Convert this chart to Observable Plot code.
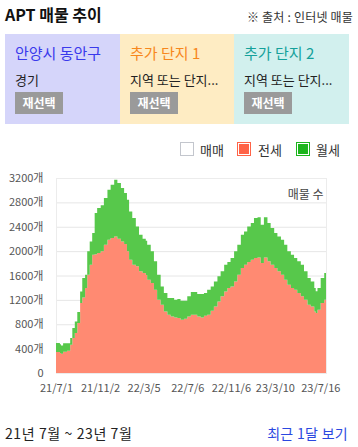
<!DOCTYPE html>
<html><head><meta charset="utf-8">
<script src="https://cdn.jsdelivr.net/npm/d3@7"></script>
<script src="https://cdn.jsdelivr.net/npm/@observablehq/plot@0.6"></script>
<style>
body{margin:0;width:358px;height:447px;background:#fff;position:relative;font-family:"Noto Sans CJK KR","Noto Sans",sans-serif;overflow:hidden;}
.abs{position:absolute;}
#title{left:5px;top:3px;font-size:16px;font-weight:bold;color:#111;line-height:22px;}
#source{right:5px;top:8px;font-size:12px;letter-spacing:0.2px;color:#333;line-height:18px;}
.panel{position:absolute;top:34px;height:90px;}
.ptitle{position:absolute;left:10px;top:9px;font-size:15px;line-height:20px;white-space:nowrap;}
.psub{position:absolute;left:10px;top:37px;font-size:13px;line-height:18px;color:#222;white-space:nowrap;}
.btn{position:absolute;left:10px;top:58px;width:48px;height:22px;background:#9a9a9a;color:#fff;font-weight:bold;font-size:12px;line-height:22px;text-align:center;}
.lbox{position:absolute;top:142px;width:12px;height:12px;border:1.5px solid;box-shadow:inset 0 0 0 1px #fff;}
.ltxt{position:absolute;top:141px;font-size:13px;line-height:18px;color:#333;}
#chart{left:0;top:160px;}
#period{left:5px;top:424px;font-size:14px;letter-spacing:0.6px;color:#222;line-height:18px;}
#recent{right:10px;top:424px;font-size:14px;letter-spacing:0.3px;color:#2b48e0;line-height:18px;}
</style>
</head><body>
<div id="title" class="abs">APT 매물 추이</div>
<div id="source" class="abs">※ 출처 : 인터넷 매물</div>

<div class="panel" style="left:5px;width:115px;background:#d5d5fa;">
  <div class="ptitle" style="color:#3a3aec;">안양시 동안구</div>
  <div class="psub">경기</div>
  <div class="btn">재선택</div>
</div>
<div class="panel" style="left:120px;width:114px;background:#feecc3;">
  <div class="ptitle" style="color:#f7871c;">추가 단지 1</div>
  <div class="psub">지역 또는 단지...</div>
  <div class="btn">재선택</div>
</div>
<div class="panel" style="left:234px;width:115px;background:#d2f0ee;">
  <div class="ptitle" style="color:#14a19b;">추가 단지 2</div>
  <div class="psub">지역 또는 단지...</div>
  <div class="btn">재선택</div>
</div>

<div class="lbox" style="left:180px;border-color:#c3c6cd;background:#fff;box-shadow:none;"></div>
<div class="ltxt" style="left:200px;">매매</div>
<div class="lbox" style="left:237px;border-color:#ff6347;background:#ff6347;"></div>
<div class="ltxt" style="left:258px;">전세</div>
<div class="lbox" style="left:296px;border-color:#1cb51c;background:#1cb51c;"></div>
<div class="ltxt" style="left:316px;">월세</div>

<div id="chart" class="abs"></div>
<div id="period" class="abs">21년 7월 ~ 23년 7월</div>
<div id="recent" class="abs">최근 1달 보기</div>

<script>
const dates = [
"2021-07-01","2021-07-12","2021-07-15","2021-07-21","2021-08-01","2021-08-10","2021-08-16","2021-08-23","2021-08-30",
"2021-09-07","2021-09-13","2021-09-21","2021-09-27","2021-10-04","2021-10-11","2021-10-18","2021-10-25","2021-11-04",
"2021-11-13","2021-11-23","2021-12-02","2021-12-12","2021-12-21","2021-12-31","2022-01-09","2022-01-17","2022-01-23",
"2022-02-01","2022-02-11","2022-02-20","2022-03-02","2022-03-11","2022-03-15","2022-03-25","2022-04-03","2022-04-12",
"2022-04-22","2022-05-01","2022-05-11","2022-05-20","2022-05-30","2022-06-08","2022-06-17","2022-06-27","2022-07-06",
"2022-07-16","2022-07-25","2022-08-03","2022-08-13","2022-08-22","2022-08-31","2022-09-10","2022-09-19","2022-09-29",
"2022-10-08","2022-10-18","2022-10-27","2022-11-05","2022-11-15","2022-11-24","2022-12-04","2022-12-13","2022-12-22",
"2023-01-01","2023-01-10","2023-01-20","2023-01-29","2023-02-07","2023-02-17","2023-02-26","2023-03-08","2023-03-17",
"2023-03-27","2023-04-05","2023-04-14","2023-04-24","2023-05-03","2023-05-12","2023-05-22","2023-05-31","2023-06-10",
"2023-06-19","2023-06-29","2023-07-03","2023-07-08","2023-07-17","2023-07-27","2023-08-01"];
const jeonse = [
345,330,317,350,366,464,574,656,820,
1148,1241,1395,1613,1777,1941,1950,1969,1996,
2105,2187,2215,2242,2204,2160,2116,1996,1859,
1777,1750,1668,1641,1610,1531,1477,1367,1203,
1121,1011,957,929,912,902,875,890,929,
957,957,929,912,940,957,1022,1093,1175,
1258,1339,1395,1421,1503,1613,1723,1777,1821,
1859,1887,1896,1805,1896,1832,1777,1723,1668,
1613,1531,1449,1395,1367,1313,1258,1203,1121,
1093,1011,984,1040,1148,1203,1220];
const wolse = [
147,140,136,140,124,110,164,191,181,
191,318,218,383,383,356,676,739,755,
767,821,875,930,914,876,838,848,793,
767,656,602,563,560,574,519,465,410,
300,302,274,302,291,313,312,297,329,
372,372,367,384,373,410,399,410,411,
410,438,426,466,493,492,547,547,585,
602,657,658,629,658,629,603,574,574,
574,574,547,546,520,519,519,465,438,
410,384,356,355,411,438,448];
const seriesNames = ["전세","월세"];
const seriesColors = ["#ff8a72","#57c84b"];
const xTicks = ["2021-07-01","2021-11-02","2022-03-05","2022-07-06","2022-11-06","2023-03-10","2023-07-16"];
const yTicks = [0,400,800,1200,1600,2000,2400,2800,3200];
const xDomain = ["2021-07-01","2023-08-01"];

const rows = dates.flatMap((d,i)=>[
  {date:new Date(d), type:"전세", value:jeonse[i]},
  {date:new Date(d), type:"월세", value:wolse[i]}
]);
const fmtX = d => `${String(d.getUTCFullYear()).slice(2)}/${d.getUTCMonth()+1}/${d.getUTCDate()}`;
const fmtY = v => v === 0 ? "0" : v + "개";

const chart = Plot.plot({
  width:358, height:245,
  marginLeft:56, marginRight:32, marginTop:18, marginBottom:32,
  style:{fontFamily:"'Noto Sans CJK KR','Noto Sans',sans-serif", fontSize:"11px", color:"#555", background:"transparent"},
  x:{type:"utc", domain:xDomain.map(d=>new Date(d)), label:null},
  y:{domain:[0,3200], label:null},
  color:{domain:seriesNames, range:seriesColors},
  marks:[
    Plot.gridY(yTicks, {stroke:"#e6e6e6", strokeOpacity:1}),
    Plot.frame({stroke:"#ececec"}),
    Plot.areaY(rows, {x:"date", y:"value", fill:"type", curve:"step-after", order:seriesNames}),
    Plot.axisX(xTicks.map(d=>new Date(d)), {tickSize:0, tickPadding:11, tickFormat:fmtX, label:null}),
    Plot.axisY(yTicks, {tickSize:0, tickPadding:13, tickFormat:fmtY, label:null}),
    Plot.text(["매물 수"], {frameAnchor:"top-right", dx:-3, dy:12, fontSize:12, fill:"#444"})
  ]
});
document.getElementById("chart").appendChild(chart);
</script>
</body></html>
